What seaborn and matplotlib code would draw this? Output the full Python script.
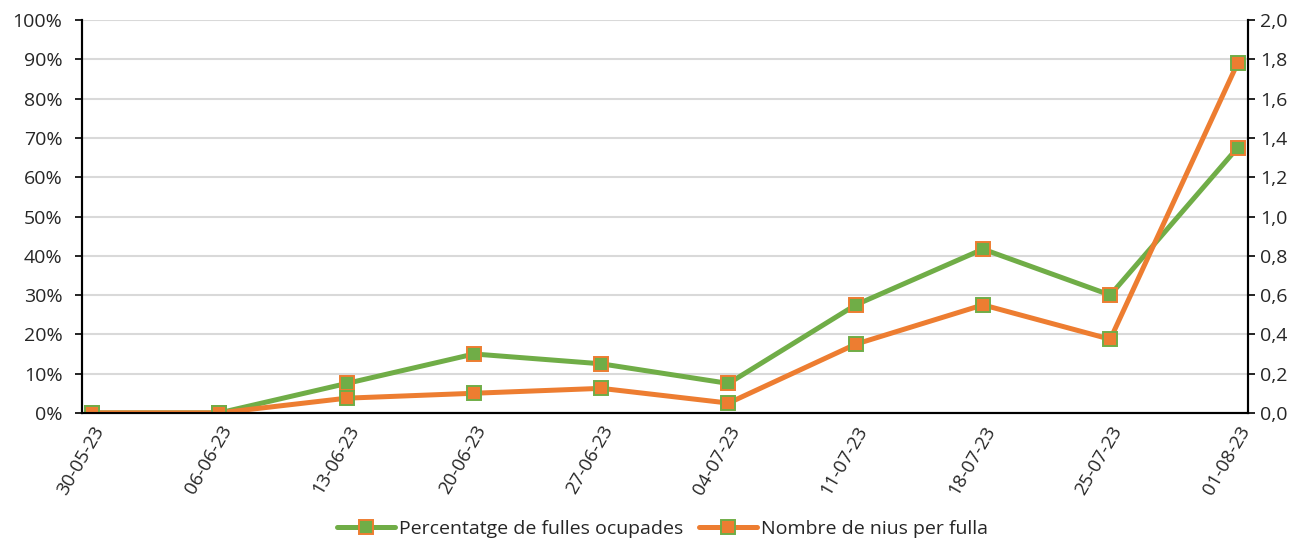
import matplotlib
matplotlib.use('Agg')
import matplotlib.pyplot as plt
import seaborn as sns
import pandas as pd
from matplotlib.ticker import FuncFormatter

# data
dates = ['30-05-23', '06-06-23', '13-06-23', '20-06-23', '27-06-23',
         '04-07-23', '11-07-23', '18-07-23', '25-07-23', '01-08-23']
pct_fulles = [0, 0, 7.5, 15, 12.5, 7.5, 27.5, 41.7, 30, 67.5]
nius_fulla = [0, 0, 0.075, 0.10, 0.125, 0.05, 0.35, 0.55, 0.375, 1.78]

green = '#70AD47'
orange = '#ED7D31'

sns.set_style('white')
plt.rcParams['font.family'] = ['Open Sans', 'DejaVu Sans']

df = pd.DataFrame({'pos': range(len(dates)), 'pct': pct_fulles, 'nius': nius_fulla})

fig = plt.figure(figsize=(13.12, 5.44), dpi=100)
ax = fig.add_axes([0.0625, 0.241, 0.8885, 0.722])
ax2 = ax.twinx()

sns.lineplot(data=df, x='pos', y='pct', ax=ax, color=green, linewidth=3.6,
             marker='s', markersize=9.5, markerfacecolor=green,
             markeredgecolor=orange, markeredgewidth=1.4,
             label='Percentatge de fulles ocupades', legend=False)
sns.lineplot(data=df, x='pos', y='nius', ax=ax2, color=orange, linewidth=3.6,
             marker='s', markersize=9.5, markerfacecolor=orange,
             markeredgecolor=green, markeredgewidth=1.4,
             label='Nombre de nius per fulla', legend=False)

ax.set_xlim(-0.08, 9.08)
ax.set_ylim(0, 100)
ax2.set_ylim(0, 2)
ax.set_yticks(range(0, 101, 10))
ax2.set_yticks([i / 5 for i in range(11)])
ax.yaxis.set_major_formatter(FuncFormatter(lambda v, p: f'{v:.0f}%'))
ax2.yaxis.set_major_formatter(FuncFormatter(lambda v, p: f'{v:.1f}'.replace('.', ',')))
ax.set_xticks(range(len(dates)))
ax.set_xticklabels(dates, rotation=60, ha='right', rotation_mode='anchor')
ax.set_xlabel('')
ax.set_ylabel('')
ax2.set_ylabel('')

ax.grid(axis='y', color='#D9D9D9', linewidth=1.5)
ax.set_axisbelow(True)
for a in (ax, ax2):
    for s in a.spines.values():
        s.set_visible(False)
    for s in ('left', 'right', 'bottom'):
        a.spines[s].set_visible(True)
        a.spines[s].set_color('black')
        a.spines[s].set_linewidth(1.5)
ax.tick_params(axis='y', length=5, width=1.2, color='black', labelsize=14, pad=9, left=True)
ax2.tick_params(axis='y', length=5, width=1.2, color='black', labelsize=14, pad=4, right=True)
ax.tick_params(axis='x', length=0, labelsize=13.5, pad=7)

h1, l1 = ax.get_legend_handles_labels()
h2, l2 = ax2.get_legend_handles_labels()
fig.legend(h1 + h2, l1 + l2, loc='center', bbox_to_anchor=(0.505, 0.028), ncol=2,
           frameon=False, fontsize=14, handlelength=3.0, columnspacing=0.8, handletextpad=0.2)

fig.savefig('out.png', dpi=100)
